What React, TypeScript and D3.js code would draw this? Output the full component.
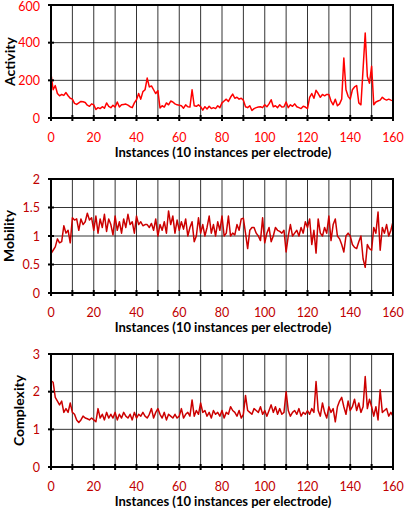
import * as d3 from "d3";

// x positions 0..160 (instances)
const activity = [
  235, 150, 172, 130, 118, 125, 120, 135, 118, 105, 100,
  78, 72, 80, 88, 86, 82, 68, 62, 75, 70,
  45, 55, 50, 60, 52, 80, 62, 55, 68, 58,
  85, 58, 70, 72, 74, 68, 60, 55, 80, 97,
  130, 100, 140, 150, 212, 165, 170, 150, 130, 145,
  53, 65, 58, 80, 70, 90, 85, 75, 70, 68,
  65, 52, 70, 60, 58, 150, 65, 62, 70, 60,
  42, 60, 48, 62, 50, 55, 50, 65, 55, 80,
  90, 100, 88, 110, 127, 105, 110, 100, 105, 95,
  60, 55, 65, 40, 50, 55, 58, 60, 55, 70,
  60, 75, 97, 60, 65, 55, 70, 58, 60, 85,
  55, 70, 62, 75, 60, 55, 50, 62, 58, 50,
  110, 130, 105, 147, 130, 110, 125, 118, 125, 125,
  90, 70, 100, 65, 75, 100, 318, 150, 115, 100,
  150, 165, 172, 80, 70, 260, 451, 220, 185, 275,
  70, 85, 90, 95, 110, 100, 95, 100, 95, 92,
];

const mobility = [
  0.69, 0.75, 0.81, 0.95, 0.88, 0.9, 1.18, 1.05, 1.1, 0.88, 1.32,
  1.28, 1.3, 1.1, 1.3, 1.2, 1.25, 1.4, 1.28, 1.32, 1.1,
  1.35, 1.05, 1.3, 1.15, 1.38, 1.08, 1.3, 1.2, 1.02, 1.35,
  1.1, 1.25, 1.05, 1.3, 1.15, 1.38, 1.2, 1.25, 1.05, 1.35,
  1.2, 1.25, 1.18, 1.2, 1.2, 1.15, 1.22, 1.1, 1.3, 1.0,
  1.2, 1.1, 1.25, 1.05, 1.44, 1.2, 1.35, 1.05, 1.28, 1.1,
  1.25, 1.12, 1.3, 1.0, 1.15, 1.25, 0.9, 1.0, 1.32, 1.05,
  1.2, 1.0, 1.15, 1.35, 1.05, 1.2, 1.0, 1.25, 1.1, 1.35,
  1.0, 1.05, 1.35, 1.0, 1.05, 1.02, 1.2, 1.1, 1.3, 1.31,
  1.05, 0.78, 1.1, 1.15, 1.15, 1.05, 1.0, 0.92, 1.32, 0.88,
  1.05, 1.15, 0.9, 1.0, 1.15, 1.1, 1.08, 1.05, 1.1, 0.72,
  1.0, 1.2, 1.0, 1.05, 1.1, 1.0, 1.15, 1.05, 1.25, 1.15,
  1.3, 0.85, 1.1, 0.7, 1.3, 1.05, 1.0, 1.15, 1.05, 1.35,
  0.92, 1.2, 1.3, 1.0, 0.95, 0.85, 0.72, 1.0, 1.05, 1.0,
  0.85, 0.8, 0.78, 0.9, 1.0, 0.6, 0.45, 0.85, 0.78, 0.75,
  1.15, 1.05, 1.42, 0.75, 1.15, 1.05, 1.2, 1.0, 1.1, 1.25,
];

const complexity = [
  2.29, 2.25, 1.85, 1.75, 1.65, 1.75, 1.45, 1.55, 1.45, 1.7, 1.45,
  1.4, 1.25, 1.18, 1.25, 1.35, 1.3, 1.28, 1.25, 1.3, 1.25,
  1.2, 1.55, 1.3, 1.4, 1.25, 1.45, 1.3, 1.4, 1.3, 1.45,
  1.25, 1.4, 1.3, 1.45, 1.35, 1.3, 1.4, 1.25, 1.45, 1.3,
  1.4, 1.35, 1.45, 1.35, 1.3, 1.4, 1.55, 1.3, 1.45, 1.55,
  1.4, 1.3, 1.45, 1.25, 1.4, 1.35, 1.3, 1.4, 1.3, 1.35,
  1.55, 1.3, 1.4, 1.45, 1.35, 1.78, 1.35, 1.5, 1.4, 1.7,
  1.45, 1.5, 1.35, 1.45, 1.3, 1.5, 1.4, 1.45, 1.35, 1.5,
  1.3, 1.45, 1.4, 1.6, 1.5, 1.45, 1.35, 1.5, 1.3, 1.4,
  1.9, 1.5, 1.45, 1.4, 1.55, 1.5, 1.45, 1.6, 1.4, 1.5,
  1.35, 1.5, 1.65, 1.45, 1.6, 1.4, 1.55, 1.4, 1.45, 2.0,
  1.5, 1.35, 1.45, 1.5, 1.4, 1.55, 1.35, 1.45, 1.4, 1.5,
  1.4, 1.55, 1.45, 2.27, 1.5, 1.35, 1.7, 1.45, 1.3, 1.6,
  1.45, 1.55, 1.2, 1.6, 1.75, 1.85, 1.6, 1.4, 1.75, 1.5,
  1.6, 1.8, 1.5, 1.7, 1.45, 1.6, 2.4, 1.55, 1.8, 1.6,
  1.35, 1.6, 1.25, 2.05, 1.45, 1.5, 1.55, 1.35, 1.45, 1.35,
];

const xTicks = [0, 20, 40, 60, 80, 100, 120, 140, 160];
const xGrid = d3.range(0, 161, 10);
const activityTicks = [0, 200, 400, 600];
const mobilityTicks = [0, 0.5, 1, 1.5, 2];
const complexityTicks = [0, 1, 2, 3];
const xTitle = "Instances (10 instances per electrode)";

const FONT = "Lato, 'Open Sans', sans-serif";
const LEFT = 51;
const RIGHT = 393;

interface PanelProps {
  values: number[];
  yTicks: number[];
  top: number;
  bottom: number;
  title: string;
  titleX: number;
  lineColor: string;
  labelColor: string;
}

const Panel = ({ values, yTicks, top, bottom, title, titleX, lineColor, labelColor }: PanelProps) => {
  const x = d3.scaleLinear().domain([0, 160]).range([LEFT, RIGHT]);
  const y = d3
    .scaleLinear()
    .domain([0, yTicks[yTicks.length - 1]])
    .range([bottom, top]);

  const line = d3
    .line<number>()
    .x((_, i) => x(i))
    .y((d) => y(d));

  return (
    <g>
      {/* grid */}
      {xGrid.map((t) => (
        <line key={"vx" + t} x1={x(t)} x2={x(t)} y1={top} y2={bottom} stroke="#000" strokeWidth={0.8} />
      ))}
      {yTicks.map((t) => (
        <line key={"hy" + t} x1={LEFT} x2={RIGHT} y1={y(t)} y2={y(t)} stroke="#000" strokeWidth={0.8} />
      ))}
      <path d={line(values) || ""} fill="none" stroke={lineColor} strokeWidth={1.5} strokeLinejoin="round" />
      {/* frame */}
      <rect x={LEFT} y={top} width={RIGHT - LEFT} height={bottom - top} fill="none" stroke="#000" strokeWidth={2} />
      {/* tick marks */}
      {xGrid.map((t) => (
        <line key={"tx" + t} x1={x(t)} x2={x(t)} y1={bottom - 3} y2={bottom + 3} stroke="#000" strokeWidth={2} />
      ))}
      {yTicks.map((t) => (
        <line key={"ty" + t} x1={LEFT - 3} x2={LEFT + 3} y1={y(t)} y2={y(t)} stroke="#000" strokeWidth={2} />
      ))}
      {/* tick labels */}
      {xTicks.map((t) => (
        <text key={"lx" + t} x={x(t)} y={bottom + 23.5} textAnchor="middle" fontSize={12.5} fill={labelColor} fontFamily={FONT}>
          {t}
        </text>
      ))}
      {yTicks.map((t) => (
        <text key={"ly" + t} x={40} y={Math.max(y(t) + 4.5, 11)} textAnchor="end" fontSize={12.5} fill={labelColor} fontFamily={FONT}>
          {t}
        </text>
      ))}
      <text x={(LEFT + RIGHT) / 2 + 1} y={bottom + 39} textAnchor="middle" fontSize={13} fontWeight="bold" fontFamily={FONT} fill="#000">
        {xTitle}
      </text>
      <text
        transform={`translate(${titleX},${(top + bottom) / 2}) rotate(-90)`}
        textAnchor="middle"
        dy="0.35em"
        fontSize={14}
        fontWeight="bold"
        fontFamily={FONT}
        fill="#000"
      >
        {title}
      </text>
    </g>
  );
};

export default function App() {
  return (
    <svg width={405} height={509} style={{ position: "absolute", left: 0, top: 0, background: "#fff" }}>
      <Panel values={activity} yTicks={activityTicks} top={5} bottom={118} title="Activity" titleX={10} lineColor="#ff0000" labelColor="#ff0000" />
      <Panel values={mobility} yTicks={mobilityTicks} top={179} bottom={293} title="Mobility" titleX={9} lineColor="#cc0000" labelColor="#c00000" />
      <Panel values={complexity} yTicks={complexityTicks} top={354} bottom={467} title="Complexity" titleX={19} lineColor="#cc0000" labelColor="#c00000" />
    </svg>
  );
}
